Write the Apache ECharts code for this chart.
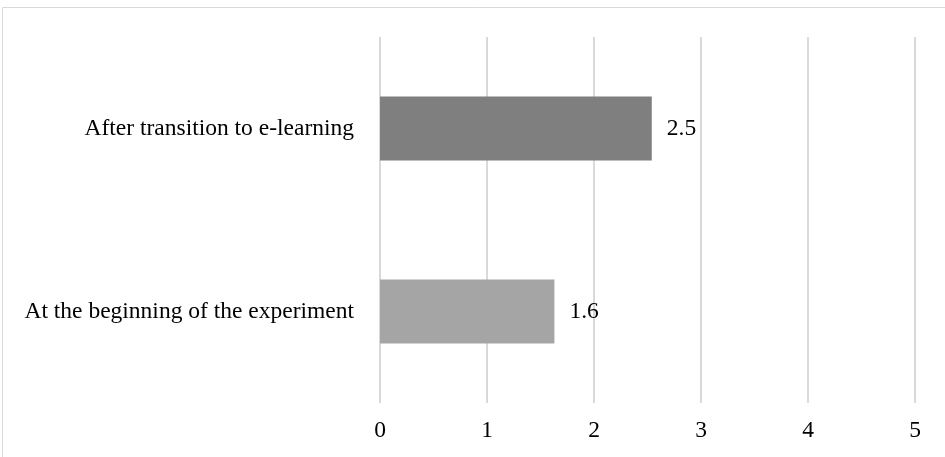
<!DOCTYPE html>
<html>
<head>
<meta charset="utf-8">
<script src="https://cdn.jsdelivr.net/npm/echarts@6/dist/echarts.min.js"></script>
<style>
  html, body { margin: 0; padding: 0; background: #fff; }
  #chart { width: 945px; height: 457px; }
</style>
</head>
<body>
<div id="chart"></div>
<script>
// 类别（自下而上）
const categories = ['At the beginning of the experiment', 'After transition to e-learning'];
// 数值
const values = [1.63, 2.54];
// 柱子颜色
const barColors = ['#a5a5a5', '#7f7f7f'];
// x轴刻度
const xTicks = [0, 1, 2, 3, 4, 5];

const chart = echarts.init(document.getElementById('chart'));

const font = '"Liberation Serif", "Times New Roman", serif';

const option = {
    animation: false,
    graphic: [{
        type: 'rect',
        shape: { x: 2.5, y: 7.5, width: 960, height: 470 },
        style: { fill: 'none', stroke: '#d9d9d9', lineWidth: 1 },
        silent: true
    }],
    grid: {
        left: 380,
        right: 30,
        top: 37,
        bottom: 54
    },
    xAxis: {
        type: 'value',
        min: xTicks[0],
        max: xTicks[xTicks.length - 1],
        interval: 1,
        axisLine: { show: false },
        axisTick: { show: false },
        splitLine: { lineStyle: { color: '#d9d9d9', width: 2 } },
        axisLabel: {
            margin: 16,
            color: '#000',
            fontFamily: font,
            fontSize: 23.5
        }
    },
    yAxis: {
        type: 'category',
        data: categories,
        axisLine: { show: false },
        axisTick: { show: false },
        axisLabel: {
            margin: 26,
            color: '#000',
            fontFamily: font,
            fontSize: 23.5
        }
    },
    series: [{
        type: 'bar',
        data: values.map((v, i) => ({ value: v, itemStyle: { color: barColors[i] } })),
        barWidth: 64,
        label: {
            show: true,
            position: 'right',
            distance: 15,
            color: '#000',
            fontFamily: font,
            fontSize: 23.5,
            formatter: p => p.value.toFixed(1)
        }
    }]
};

chart.setOption(option);
</script>
</body>
</html>
